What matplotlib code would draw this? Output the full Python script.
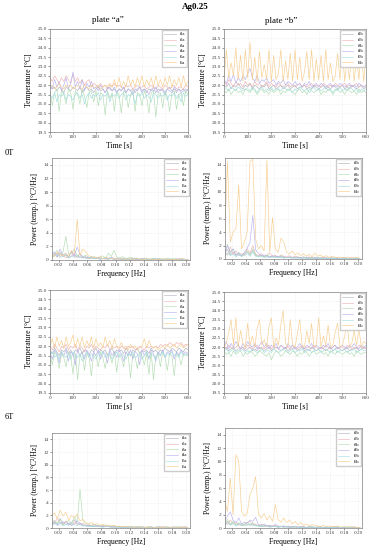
import matplotlib
matplotlib.use('Agg')
import matplotlib.pyplot as plt
import numpy as np

plt.rcParams['font.family'] = ['Liberation Serif', 'DejaVu Serif']

# DATA
time = np.arange(0, 601, 10)          # s
freq = np.arange(0.010, 0.2025, 0.004)  # Hz

# 0T, plate a
t1a = [21.9,21.8,21.9,21.7,21.9,21.8,21.6,21.9,21.8,21.7,
       21.9,21.8,21.7,21.9,21.6,21.8,21.9,21.7,21.8,21.6,
       21.8,21.9,21.7,21.8,21.6,21.8,21.9,21.7,21.8,21.6,
       21.8,21.7,21.9,21.6,21.8,21.7,21.8,21.6,21.8,21.9,
       21.7,21.8,21.6,21.8,21.7,21.9,21.6,21.8,21.7,21.8,
       21.6,21.8,21.9,21.7,21.8,21.6,21.8,21.7,21.8,21.6,
       21.8]
t2a = [22.4,22.2,22.5,22.3,22.1,22.4,22.2,22.5,22.3,22.1,
       22.6,22.2,22.4,22.1,22.3,22.0,22.2,22.3,21.9,22.1,
       22.0,21.9,22.1,21.9,22.0,21.8,22.0,21.9,22.1,21.9,
       22.0,21.9,21.8,22.0,21.9,22.0,21.8,21.9,22.0,21.9,
       21.9,22.0,21.8,21.9,22.0,21.9,21.8,22.0,21.9,21.8,
       22.0,21.9,21.8,21.9,22.0,21.8,21.9,21.9,21.8,22.0,
       21.9]
t3a = [21.7,20.9,21.6,21.8,20.6,21.7,21.5,21.0,21.8,21.6,
       20.7,21.7,21.5,21.0,21.8,21.4,20.8,21.6,21.7,21.1,
       21.7,20.9,21.6,21.5,20.4,21.7,21.3,21.6,20.6,21.7,
       21.5,20.5,21.7,21.6,20.8,21.5,21.7,20.6,21.6,21.5,
       20.9,21.7,21.4,20.5,21.6,21.7,20.3,21.5,21.6,20.8,
       21.7,21.4,20.6,21.6,21.7,20.7,21.5,21.6,20.9,21.7,
       21.5]
t4a = [22.1,21.8,22.3,21.9,22.2,21.7,22.0,22.4,21.8,22.1,
       22.7,21.9,22.2,21.8,22.3,21.7,22.1,21.9,22.2,21.8,
       21.9,21.7,22.0,21.8,21.6,21.9,21.8,21.7,21.9,21.6,
       21.8,21.7,21.9,21.6,21.8,21.7,21.5,21.8,21.7,21.9,
       21.6,21.8,21.7,21.5,21.8,21.7,21.9,21.6,21.8,21.7,
       21.5,21.8,21.7,21.6,21.9,21.7,21.8,21.6,21.7,21.8,
       21.7]
t5a = [21.5,21.3,21.6,21.1,21.5,21.4,21.6,21.2,21.5,21.4,
       21.2,21.5,21.6,21.3,21.5,21.0,21.4,21.6,21.3,21.5,
       21.4,21.6,21.2,21.5,21.4,21.6,21.1,21.5,21.4,21.6,
       21.3,21.5,21.6,21.2,21.5,21.4,21.6,21.0,21.5,21.4,
       21.6,21.3,21.5,21.4,21.1,21.6,21.5,21.3,21.5,21.4,
       21.6,21.2,21.5,21.4,21.6,21.3,21.5,21.1,21.6,21.4,
       21.5]
t6a = [21.9,22.0,21.8,21.9,22.1,21.9,21.8,22.0,21.9,22.0,
       21.8,21.9,22.0,21.9,21.8,22.0,21.9,21.8,22.0,21.9,
       21.9,22.0,21.8,21.9,22.0,21.9,22.1,21.9,22.3,21.9,
       22.4,21.9,22.2,21.9,22.5,22.0,22.3,21.9,22.4,22.0,
       22.5,21.9,22.3,22.0,22.4,21.9,22.5,22.0,22.3,21.9,
       22.4,22.0,22.5,21.9,22.3,22.0,22.4,21.9,22.5,22.0,
       22.2]

# 0T, plate b
t1b = [22.0,21.9,22.1,21.8,22.0,21.9,22.1,21.9,21.8,22.0,
       21.9,22.1,21.8,22.0,21.9,21.8,22.0,21.9,22.1,21.8,
       21.9,22.0,21.8,21.9,22.0,21.8,21.9,22.0,21.8,21.9,
       22.0,21.8,21.9,21.9,22.0,21.8,21.9,21.8,22.0,21.9,
       21.8,21.9,22.0,21.8,21.9,21.8,22.0,21.9,21.8,21.9,
       22.0,21.8,21.9,21.8,22.0,21.9,21.8,21.9,22.0,21.8,
       21.9]
t2b = [22.2,22.0,22.3,22.1,21.9,22.2,22.0,22.1,21.9,22.2,
       22.0,22.1,21.9,22.2,22.0,22.1,21.9,22.0,22.2,21.9,
       22.1,22.0,21.9,22.1,22.0,21.9,22.0,22.1,21.9,22.0,
       21.9,22.0,22.1,21.9,22.0,21.9,22.0,22.1,21.9,22.0,
       22.0,21.9,22.1,22.0,21.9,22.0,21.9,22.1,22.0,21.9,
       22.0,22.1,21.9,22.0,21.9,22.0,22.1,21.9,22.0,21.9,
       22.0]
t3b = [21.7,21.6,21.8,21.5,21.7,21.8,21.6,21.7,21.5,21.8,
       21.7,21.6,21.8,21.7,21.5,21.7,21.8,21.6,21.7,21.5,
       21.8,21.6,21.7,21.8,21.5,21.7,21.6,21.8,21.7,21.6,
       21.5,21.7,21.8,21.6,21.7,21.5,21.8,21.7,21.6,21.7,
       21.8,21.5,21.7,21.6,21.8,21.7,21.5,21.7,21.8,21.6,
       21.7,21.5,21.8,21.7,21.6,21.7,21.5,21.8,21.6,21.7,
       21.6]
t4b = [22.3,22.1,22.5,22.2,22.6,22.1,22.4,22.2,22.5,22.3,
       22.6,22.9,22.4,22.2,22.5,22.1,22.3,22.2,22.4,22.1,
       22.2,22.3,22.0,22.2,22.1,22.3,22.0,22.2,22.1,22.0,
       22.2,22.0,22.1,21.9,22.1,22.0,22.2,21.9,22.0,22.1,
       21.9,22.1,22.0,21.9,22.0,22.1,21.9,22.0,21.9,22.1,
       22.0,21.9,22.0,22.1,21.9,22.0,21.9,22.1,22.0,21.9,
       22.0]
t5b = [21.9,21.8,21.7,21.9,21.8,21.7,21.9,21.8,21.7,21.8,
       21.8,21.7,21.9,21.8,21.6,21.8,21.9,21.7,21.8,21.7,
       21.9,21.7,21.8,21.8,21.7,21.9,21.8,21.7,21.8,21.6,
       21.8,21.7,21.9,21.8,21.7,21.8,21.6,21.8,21.9,21.7,
       21.8,21.7,21.8,21.9,21.7,21.8,21.6,21.8,21.7,21.9,
       21.7,21.8,21.7,21.9,21.8,21.7,21.8,21.6,21.8,21.7,
       21.8]
t6b = [22.3,23.9,22.4,23.2,22.5,24.0,22.3,23.6,22.2,23.9,
       22.4,24.3,22.3,23.5,22.2,23.8,22.4,23.1,22.3,23.9,
       22.2,23.6,22.3,22.6,23.9,22.2,23.3,22.3,23.7,22.2,
       23.9,22.3,23.5,22.2,22.7,23.8,22.3,23.9,22.2,23.4,
       22.3,23.6,22.2,23.9,22.3,23.2,22.2,22.5,23.7,22.3,
       23.9,22.2,23.4,22.3,23.8,22.2,23.5,22.3,23.9,22.2,
       23.6]

# 6T, plate a
u1a = [21.8,21.6,21.9,21.7,21.5,21.8,21.7,21.9,21.6,21.8,
       21.5,21.8,21.7,21.9,21.6,21.8,21.7,21.5,21.8,21.7,
       21.9,21.6,21.8,21.7,21.8,21.5,21.7,21.9,21.6,21.8,
       21.7,21.8,21.6,21.9,21.7,21.5,21.8,21.7,21.9,21.6,
       21.8,21.7,21.8,21.6,21.9,21.7,21.8,21.6,21.8,21.7,
       21.9,21.8,21.7,21.9,21.8,21.7,21.9,21.8,21.7,21.9,
       21.8]
u2a = [22.0,21.8,22.1,21.9,21.7,22.0,21.9,22.1,21.8,22.0,
       21.9,22.1,21.8,22.0,21.9,21.7,22.0,21.9,22.1,21.8,
       22.0,21.9,21.8,22.0,21.9,22.1,21.8,22.0,21.9,22.0,
       21.8,22.0,21.9,21.8,22.0,21.9,22.0,21.8,21.9,22.0,
       21.9,21.8,22.0,21.9,22.0,21.9,22.0,21.9,22.1,22.0,
       22.1,22.0,22.2,22.1,22.0,22.2,22.1,22.2,22.0,22.1,
       22.1]
u3a = [21.6,21.0,21.7,21.5,20.8,21.6,21.4,20.9,21.7,21.5,
       20.5,21.6,20.2,21.5,21.7,20.7,21.6,21.4,20.4,21.6,
       21.5,20.9,21.7,21.4,20.8,21.6,21.5,21.1,21.7,20.6,
       21.6,21.4,20.9,21.7,21.5,20.3,21.6,21.4,20.8,21.7,
       21.5,21.0,21.6,20.5,21.7,20.2,21.5,21.6,20.9,21.7,
       21.4,20.7,21.6,21.5,20.4,21.7,21.5,21.0,21.6,21.5,
       21.6]
u4a = [21.7,21.3,21.8,21.6,21.1,21.7,21.5,21.8,21.2,21.7,
       21.6,21.0,21.8,21.5,21.7,21.3,21.8,21.6,21.2,21.7,
       21.5,21.8,21.3,21.7,21.6,21.1,21.8,21.5,21.7,21.4,
       21.8,21.6,21.2,21.7,21.5,21.8,21.3,21.7,21.6,21.0,
       21.8,21.5,21.7,21.3,21.8,21.6,21.2,21.7,21.5,21.8,
       21.4,21.7,21.6,21.8,21.3,21.7,21.5,21.8,21.6,21.7,
       21.6]
u5a = [21.5,21.7,21.4,21.6,21.3,21.7,21.5,21.4,21.6,21.3,
       21.7,21.5,21.4,21.6,21.2,21.5,21.7,21.4,21.6,21.5,
       21.3,21.6,21.5,21.7,21.4,21.5,21.6,21.3,21.5,21.7,
       21.4,21.6,21.5,21.3,21.6,21.5,21.7,21.4,21.5,21.6,
       21.3,21.5,21.7,21.4,21.6,21.5,21.3,21.6,21.5,21.7,
       21.4,21.6,21.5,21.7,21.5,21.6,21.4,21.7,21.5,21.6,
       21.5]
u6a = [22.0,22.4,21.9,22.5,22.0,22.3,21.9,22.5,22.0,22.2,
       22.6,21.9,22.4,22.0,22.5,21.9,22.3,22.0,22.5,21.9,
       22.4,22.0,22.2,21.9,22.5,22.0,22.3,21.9,22.4,22.0,
       21.9,22.2,21.9,22.0,21.8,22.1,21.9,22.0,21.8,21.9,
       22.0,22.4,21.9,22.3,22.0,21.9,22.0,21.8,21.9,22.0,
       21.9,22.1,21.9,22.0,22.1,21.9,22.0,22.1,21.9,22.0,
       22.1]

# 6T, plate b
u1b = [21.9,22.0,21.8,21.9,22.0,21.8,21.9,21.9,22.0,21.8,
       21.9,22.0,21.8,21.9,21.8,22.0,21.9,21.8,21.9,22.0,
       21.8,21.9,22.0,21.9,21.8,21.9,22.0,21.8,21.9,21.9,
       22.0,21.8,21.9,22.0,21.8,21.9,21.8,22.0,21.9,21.8,
       21.9,22.0,21.9,21.8,21.9,22.0,21.8,21.9,22.0,21.9,
       21.8,21.9,22.0,21.8,21.9,21.9,22.0,21.8,21.9,22.0,
       21.9]
u2b = [22.0,21.9,22.1,22.0,21.9,22.0,22.1,21.9,22.0,21.9,
       22.1,22.0,21.9,22.0,22.1,21.9,22.0,21.9,22.0,22.1,
       21.9,22.0,22.0,21.9,22.1,22.0,21.9,22.0,21.9,22.1,
       22.0,21.9,22.0,22.1,21.9,22.0,22.0,21.9,22.1,22.0,
       21.9,22.0,21.9,22.1,22.0,21.9,22.0,22.1,21.9,22.0,
       22.0,21.9,22.1,22.0,21.9,22.0,21.9,22.1,22.0,21.9,
       22.0]
u3b = [21.8,21.6,21.7,21.5,21.8,21.6,21.7,21.8,21.5,21.7,
       21.6,21.8,21.7,21.5,21.6,21.8,21.7,21.6,21.5,21.7,
       21.3,21.6,21.8,21.7,21.5,21.6,21.8,21.7,21.6,21.8,
       21.7,21.5,21.7,21.6,21.8,21.7,21.5,21.7,21.8,21.6,
       21.7,21.8,21.6,21.7,21.5,21.8,21.7,21.6,21.8,21.7,
       21.6,21.7,21.8,21.6,21.7,21.5,21.8,21.7,21.6,21.7,
       21.7]
u4b = [22.1,22.3,21.9,22.2,22.0,22.3,22.1,21.9,22.2,22.0,
       22.3,22.1,22.0,22.2,21.9,22.1,22.3,22.0,22.2,21.9,
       22.1,22.0,22.2,21.9,22.1,22.0,21.9,22.2,22.0,22.1,
       21.9,22.0,22.2,22.0,21.9,22.1,22.0,22.2,21.9,22.1,
       22.0,21.9,22.1,22.0,22.2,21.9,22.0,22.1,21.9,22.0,
       22.1,22.0,21.9,22.1,22.0,22.2,22.0,21.9,22.1,22.0,
       22.1]
u5b = [21.8,21.9,21.7,21.8,21.9,21.7,21.8,21.8,21.9,21.7,
       21.8,21.7,21.9,21.8,21.7,21.8,21.9,21.7,21.8,21.8,
       21.7,21.9,21.8,21.7,21.8,21.9,21.8,21.7,21.8,21.9,
       21.7,21.8,21.8,21.9,21.7,21.8,21.9,21.7,21.8,21.8,
       21.9,21.7,21.8,21.9,21.8,21.7,21.8,21.9,21.7,21.8,
       21.8,21.9,21.7,21.8,21.8,21.9,21.7,21.8,21.9,21.8,
       21.8]
u6b = [22.0,22.2,22.8,23.5,22.1,23.6,22.0,22.9,22.2,22.0,
       23.3,22.1,22.6,22.0,23.0,23.5,22.1,22.4,22.0,23.1,
       23.6,22.0,22.5,22.1,23.2,24.0,22.2,22.0,23.5,22.1,
       22.0,22.7,23.5,22.1,22.0,22.9,22.2,23.3,22.0,22.1,
       23.6,22.0,22.6,22.1,23.2,22.0,22.1,22.8,23.3,22.0,
       22.1,22.6,23.4,22.0,22.2,22.9,22.1,23.0,22.0,22.3,
       22.2]

# power spectra, 0T plate a
p1a = [0.6,0.9,0.4,1.1,0.5,0.7,0.3,0.6,0.9,0.4, 0.5,0.3,0.4,0.2,0.3,0.2,0.3,0.1,0.2,0.3,
       0.1,0.2,0.1,0.2,0.1,0.2,0.1,0.1,0.2,0.1, 0.1,0.1,0.2,0.1,0.1,0.1,0.2,0.1,0.1,0.1,
       0.1,0.2,0.1,0.1,0.1,0.1,0.1,0.1,0.1]
p2a = [0.4,0.7,1.0,0.5,0.8,0.3,0.6,1.1,0.5,0.4, 0.9,0.3,0.5,0.2,0.4,0.3,0.2,0.3,0.2,0.1,
       0.3,0.2,0.1,0.2,0.1,0.1,0.2,0.1,0.1,0.2, 0.1,0.1,0.1,0.2,0.1,0.1,0.1,0.1,0.2,0.1,
       0.1,0.1,0.1,0.1,0.2,0.1,0.1,0.1,0.1]
p3a = [0.5,1.0,1.4,0.7,1.2,3.5,0.8,1.0,1.6,0.6, 0.9,0.5,0.7,0.4,0.3,0.5,0.3,0.4,0.6,0.3,
       1.0,0.5,1.4,0.4,0.3,0.5,0.2,0.3,0.4,0.2, 0.3,0.2,0.2,0.3,0.1,0.2,0.2,0.1,0.2,0.1,
       0.2,0.1,0.1,0.2,0.1,0.1,0.2,0.1,0.1]
p4a = [0.8,1.2,0.5,1.6,0.7,1.0,0.4,1.3,0.6,1.9, 0.8,0.5,0.4,0.3,0.5,0.2,0.4,0.3,0.2,0.3,
       0.2,0.4,0.2,0.1,0.2,0.1,0.2,0.1,0.1,0.2, 0.1,0.1,0.2,0.1,0.1,0.1,0.1,0.2,0.1,0.1,
       0.1,0.1,0.1,0.1,0.1,0.2,0.1,0.1,0.1]
p5a = [0.3,0.6,0.9,0.4,0.5,0.8,0.3,0.6,0.4,0.7, 0.3,0.5,0.2,0.3,0.4,0.2,0.3,0.1,0.2,0.2,
       0.1,0.3,0.1,0.2,0.1,0.1,0.2,0.1,0.1,0.1, 0.2,0.1,0.1,0.1,0.1,0.1,0.2,0.1,0.1,0.1,
       0.1,0.1,0.2,0.1,0.1,0.1,0.1,0.1,0.1]
p6a = [0.7,0.5,1.2,0.8,0.6,1.0,0.5,1.4,0.9,6.0, 0.7,1.6,1.2,0.6,0.5,0.4,0.3,0.5,0.2,0.4,
       0.3,0.2,0.3,0.2,0.1,0.2,0.1,0.2,0.1,0.1, 0.2,0.1,0.1,0.1,0.2,0.1,0.1,0.1,0.1,0.2,
       0.1,0.1,0.1,0.1,0.1,0.1,0.2,0.1,0.1]

# power spectra, 0T plate b
p1b = [0.8,1.4,0.6,1.0,0.5,0.9,0.4,0.7,1.1,0.6, 1.3,0.5,0.4,0.6,0.3,0.5,0.4,0.3,0.5,0.2,
       0.4,0.3,0.2,0.3,0.2,0.3,0.2,0.2,0.3,0.1, 0.2,0.2,0.1,0.2,0.1,0.2,0.1,0.1,0.2,0.1,
       0.1,0.1,0.2,0.1,0.1,0.1,0.1,0.1,0.1]
p2b = [1.0,0.6,1.8,0.7,1.2,0.5,0.8,0.6,1.5,0.9, 2.0,0.7,0.5,0.8,0.4,0.6,0.9,0.4,0.5,0.3,
       0.6,0.4,0.3,0.5,0.2,0.4,0.3,0.2,0.3,0.2, 0.3,0.2,0.2,0.1,0.2,0.2,0.1,0.2,0.1,0.1,
       0.2,0.1,0.1,0.1,0.1,0.2,0.1,0.1,0.1]
p3b = [1.0,2.2,0.8,1.5,0.6,1.0,0.5,0.8,1.2,0.7, 1.5,0.6,0.4,0.5,0.3,0.6,0.4,0.3,0.4,0.2,
       0.5,0.3,0.2,0.3,0.2,0.2,0.3,0.1,0.2,0.2, 0.1,0.2,0.1,0.1,0.2,0.1,0.1,0.1,0.1,0.2,
       0.1,0.1,0.1,0.1,0.1,0.1,0.1,0.2,0.1]
p4b = [0.5,2.0,1.0,1.5,0.6,0.8,0.5,1.0,1.6,2.5, 6.5,1.4,0.8,0.5,0.6,0.4,0.3,0.5,0.3,0.4,
       0.2,0.3,0.2,0.2,0.3,0.1,0.2,0.2,0.1,0.2, 0.1,0.1,0.2,0.1,0.1,0.1,0.2,0.1,0.1,0.1,
       0.1,0.1,0.1,0.2,0.1,0.1,0.1,0.1,0.1]
p5b = [0.4,0.9,0.5,0.7,0.3,0.6,0.4,0.5,0.8,0.4, 1.0,0.4,0.3,0.4,0.2,0.3,0.2,0.3,0.2,0.2,
       0.3,0.1,0.2,0.2,0.1,0.2,0.1,0.1,0.2,0.1, 0.1,0.1,0.1,0.2,0.1,0.1,0.1,0.1,0.1,0.1,
       0.2,0.1,0.1,0.1,0.1,0.1,0.1,0.1,0.1]
p6b = [3.0,14.5,2.5,4.0,4.5,11.0,1.5,2.5,4.0,14.5, 14.8,3.0,1.5,2.0,1.2,14.7,1.0,6.2,1.5,1.0,
       3.1,2.5,1.0,0.8,1.2,0.6,0.9,0.5,0.8,0.4, 0.7,0.3,0.9,0.4,0.6,0.3,0.5,0.2,0.4,0.3,
       0.2,0.3,0.2,0.2,0.3,0.1,0.2,0.2,0.1]

# power spectra, 6T plate a
q1a = [0.8,1.2,0.6,1.5,0.7,1.0,0.5,0.9,1.3,0.6, 0.8,0.4,0.5,0.3,0.4,0.3,0.2,0.4,0.2,0.3,
       0.2,0.3,0.1,0.2,0.2,0.1,0.2,0.1,0.2,0.1, 0.1,0.2,0.1,0.1,0.1,0.2,0.1,0.1,0.1,0.1,
       0.2,0.1,0.1,0.1,0.1,0.1,0.1,0.2,0.1]
q2a = [1.2,0.6,1.6,0.9,0.5,1.1,0.7,0.4,1.0,0.6, 0.5,0.8,0.3,0.5,0.4,0.6,0.3,0.2,0.4,0.2,
       0.3,0.2,0.3,0.1,0.2,0.2,0.1,0.1,0.2,0.1, 0.2,0.1,0.1,0.1,0.2,0.1,0.1,0.1,0.1,0.2,
       0.1,0.1,0.1,0.1,0.1,0.1,0.2,0.1,0.1]
q3a = [0.6,1.0,0.8,1.4,0.5,0.9,1.2,0.6,1.8,0.9, 6.1,1.2,0.8,0.5,0.4,0.6,0.3,0.4,0.3,0.5,
       0.2,0.3,0.4,0.2,0.3,0.1,0.2,0.3,0.1,0.2, 0.1,0.2,0.1,0.1,0.2,0.1,0.1,0.1,0.2,0.1,
       0.1,0.1,0.1,0.1,0.2,0.1,0.1,0.1,0.1]
q4a = [0.5,0.9,0.4,0.7,1.0,0.5,0.8,0.4,0.6,1.1, 0.7,0.5,0.3,0.4,0.2,0.3,0.4,0.2,0.3,0.2,
       0.3,0.1,0.2,0.2,0.1,0.2,0.1,0.1,0.2,0.1, 0.1,0.1,0.2,0.1,0.1,0.1,0.1,0.1,0.2,0.1,
       0.1,0.1,0.1,0.2,0.1,0.1,0.1,0.1,0.1]
q5a = [0.4,0.7,0.5,0.9,0.3,0.6,0.4,0.8,0.5,0.4, 0.6,0.3,0.4,0.2,0.3,0.2,0.3,0.2,0.1,0.2,
       0.2,0.1,0.2,0.1,0.1,0.2,0.1,0.1,0.1,0.1, 0.2,0.1,0.1,0.1,0.1,0.1,0.1,0.2,0.1,0.1,
       0.1,0.1,0.1,0.1,0.1,0.2,0.1,0.1,0.1]
q6a = [1.8,2.4,1.5,2.8,1.9,2.5,1.2,2.0,1.6,2.2, 1.1,1.4,0.8,0.6,0.9,0.5,0.7,0.4,0.6,0.3,
       0.5,0.3,0.4,0.2,0.3,0.2,0.3,0.2,0.2,0.1, 0.2,0.1,0.2,0.1,0.1,0.2,0.1,0.1,0.1,0.1,
       0.1,0.2,0.1,0.1,0.1,0.1,0.1,0.1,0.1]

# power spectra, 6T plate b
q1b = [0.6,1.0,0.5,0.8,0.4,0.7,0.3,0.5,0.6,0.4, 0.7,0.3,0.4,0.2,0.3,0.4,0.2,0.3,0.2,0.1,
       0.2,0.3,0.1,0.2,0.1,0.2,0.1,0.1,0.2,0.1, 0.1,0.1,0.1,0.2,0.1,0.1,0.1,0.1,0.1,0.2,
       0.1,0.1,0.1,0.1,0.1,0.1,0.1,0.1,0.1]
q2b = [0.9,0.5,1.2,0.6,0.9,0.4,0.7,0.5,0.8,1.0, 0.5,0.6,0.3,0.5,0.4,0.2,0.4,0.3,0.5,0.2,
       0.3,0.2,0.2,0.3,0.1,0.2,0.2,0.1,0.2,0.1, 0.2,0.1,0.1,0.1,0.2,0.1,0.1,0.1,0.1,0.1,
       0.2,0.1,0.1,0.1,0.1,0.1,0.2,0.1,0.1]
q3b = [0.7,1.3,0.6,1.0,0.5,0.8,0.4,0.6,0.9,0.5, 0.8,0.4,0.3,0.5,0.2,0.4,0.3,0.2,0.3,0.2,
       0.2,0.1,0.3,0.1,0.2,0.1,0.1,0.2,0.1,0.1, 0.2,0.1,0.1,0.1,0.1,0.1,0.2,0.1,0.1,0.1,
       0.1,0.1,0.1,0.1,0.2,0.1,0.1,0.1,0.1]
q4b = [1.0,1.8,2.4,1.2,0.8,1.5,0.6,0.9,0.7,1.2, 1.0,1.6,0.5,0.4,0.6,0.3,0.4,0.2,0.5,0.3,
       0.2,0.3,0.2,0.1,0.2,0.2,0.1,0.2,0.1,0.1, 0.1,0.2,0.1,0.1,0.1,0.1,0.1,0.1,0.2,0.1,
       0.1,0.1,0.1,0.1,0.1,0.1,0.1,0.1,0.1]
q5b = [0.5,0.8,0.4,0.7,0.3,0.5,0.6,0.3,0.4,0.6, 0.3,0.5,0.2,0.3,0.2,0.3,0.1,0.2,0.3,0.1,
       0.2,0.1,0.2,0.1,0.1,0.2,0.1,0.1,0.1,0.1, 0.1,0.2,0.1,0.1,0.1,0.1,0.1,0.1,0.1,0.1,
       0.2,0.1,0.1,0.1,0.1,0.1,0.1,0.1,0.1]
q6b = [4.0,2.5,7.5,2.0,11.0,10.0,2.5,1.8,2.2,5.0, 6.0,7.7,2.0,1.5,2.2,1.2,1.8,1.0,3.5,1.2,
       0.9,1.5,0.8,1.2,0.6,1.0,0.5,0.8,0.4,0.6, 0.3,0.5,0.4,0.3,0.2,0.4,0.2,0.3,0.2,0.2,
       0.3,0.1,0.2,0.2,0.1,0.2,0.1,0.1,0.1]

colors = ['#b4b4c2', '#efb4b4', '#b2dcb2', '#b8b2ee', '#a2dede', '#f6cd8e']

W, H = 369, 550
fig = plt.figure(figsize=(W/100, H/100), dpi=100)

def px_axes(x0, y0, x1, y1):
    return fig.add_axes([x0/W, 1 - y1/H, (x1-x0)/W, (y1-y0)/H])

def style(ax):
    ax.grid(True, color='#e2e2e2', lw=0.4, ls=':')
    ax.set_axisbelow(True)
    for s in ax.spines.values():
        s.set_color('#808080')
        s.set_linewidth(0.5)
    ax.tick_params(labelsize=3.8, length=1.5, width=0.4, pad=1, colors='#444444')

def add_legend(ax):
    ax.legend(loc='upper right', fontsize=3.2, frameon=True, fancybox=False,
              edgecolor='#cccccc', framealpha=1, borderaxespad=0.3,
              handlelength=2.5, labelspacing=0.35, borderpad=0.45)

def temp_panel(rect, series, plate):
    ax = px_axes(*rect)
    for i, y in enumerate(series):
        ax.plot(time, y, color=colors[i], lw=0.45, label='t%d%s' % (i+1, plate))
    ax.set_xlim(0, 600)
    ax.set_ylim(19.5, 25.0)
    ax.set_xticks(np.arange(0, 601, 100))
    ax.set_yticks(np.arange(19.5, 25.01, 0.5))
    ax.yaxis.set_major_formatter(matplotlib.ticker.FormatStrFormatter('%.1f'))
    style(ax)
    ax.set_xlabel('Time [s]', fontsize=5.5, labelpad=2)
    ax.set_ylabel('Temperature [°C]', fontsize=5.5, labelpad=3)
    add_legend(ax)
    return ax

def power_panel(rect, series, plate):
    ax = px_axes(*rect)
    for i, y in enumerate(series):
        ax.plot(freq, y, color=colors[i], lw=0.45, label='t%d%s' % (i+1, plate))
    ax.set_xlim(0.0105, 0.205)
    ax.set_ylim(0, 15)
    ax.set_xticks(np.arange(0.02, 0.201, 0.02))
    ax.xaxis.set_major_formatter(matplotlib.ticker.FormatStrFormatter('%.2f'))
    ax.set_yticks(np.arange(0, 15, 2))
    style(ax)
    ax.set_xlabel('Frequency [Hz]', fontsize=5.5, labelpad=2)
    ax.set_ylabel('Power (temp.) [°C²/Hz]', fontsize=5.5, labelpad=3)
    add_legend(ax)
    return ax

temp_panel((50, 29, 188, 132), [t1a, t2a, t3a, t4a, t5a, t6a], 'a')
temp_panel((224, 29, 366, 132), [t1b, t2b, t3b, t4b, t5b, t6b], 'b')
power_panel((52, 158, 190, 260), [p1a, p2a, p3a, p4a, p5a, p6a], 'a')
power_panel((225, 158, 362, 259), [p1b, p2b, p3b, p4b, p5b, p6b], 'b')
temp_panel((50, 290, 188, 393), [u1a, u2a, u3a, u4a, u5a, u6a], 'a')
temp_panel((224, 292, 366, 393), [u1b, u2b, u3b, u4b, u5b, u6b], 'b')
power_panel((52, 433, 190, 528), [q1a, q2a, q3a, q4a, q5a, q6a], 'a')
power_panel((225, 428, 362, 528), [q1b, q2b, q3b, q4b, q5b, q6b], 'b')

fig.text(195/W, 1 - 7/H, 'Ag0.25', fontsize=6.5, fontweight='bold', ha='center', va='center')
fig.text(108/W, 1 - 20/H, 'plate “a”', fontsize=6.5, ha='center', va='center')
fig.text(281/W, 1 - 21/H, 'plate “b”', fontsize=6.5, ha='center', va='center')
fig.text(5/W, 1 - 153/H, '0T', fontsize=6, ha='left', va='center')
fig.text(5/W, 1 - 417/H, '6T', fontsize=6, ha='left', va='center')

fig.savefig('out.png', dpi=100)
